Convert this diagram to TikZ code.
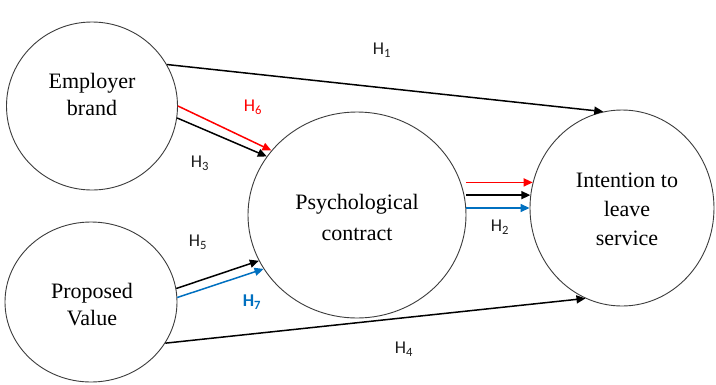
\documentclass[tikz,border=0pt]{standalone}
\usepackage{fontspec}
\setmainfont{Liberation Serif}
\newfontfamily\labfont{Carlito}
\usetikzlibrary{shapes.geometric,arrows.meta}
\definecolor{cgray}{RGB}{60,60,60}
\definecolor{hred}{RGB}{255,0,0}
\definecolor{hblue}{RGB}{0,112,192}
\definecolor{htext}{RGB}{30,30,30}
\tikzset{
  construct/.style={ellipse, draw=cgray, line width=0.9pt, inner sep=0pt},
  ctext/.style={align=center, inner sep=0pt, font=\fontsize{22}{27}\selectfont, text=black},
  hyp/.style={line width=1.5pt, -{Triangle[length=9pt,width=8pt]}},
  hlab/.style={font=\labfont\fontsize{18}{20}\selectfont, text=htext, inner sep=0pt},
}
\begin{document}
\begin{tikzpicture}[x=1pt,y=-1pt]
\useasboundingbox (0,0) rectangle (716,384);
\fill[white] (0,0) rectangle (716,384);
\node[construct, minimum width=171pt, minimum height=168pt] (eb) at (92,106) {};
\node[construct, minimum width=172pt, minimum height=160pt] (pv) at (91,302) {};
\node[construct, minimum width=218pt, minimum height=206pt] (pc) at (357,215) {};
\node[construct, minimum width=184pt, minimum height=196pt] (ic) at (622,208) {};
\node[ctext] (ebt) at (92,94) {Employer\\brand};
\node[ctext] (pvt) at (92,305) {Proposed\\Value};
\node[ctext] (pct) at (357,217) {Psychological\\[4pt]contract};
\node[ctext, font=\fontsize{22}{29}\selectfont] (ict) at (627,209) {Intention to\\leave\\service};
% arrows
\draw[hyp, black] (eb.29) -- (ic.101);
\draw[hyp, hred] (eb.0) -- (pc.143);
\draw[hyp, black] (eb.-8) -- (pc.147);
\draw[hyp, black] (pv.9) -- (pc.205);
\draw[hyp, hblue] (pv.3) -- (pc.210);
\draw[hyp, hred] (ic.164 -| pc.east) -- (ic.164);
\draw[hyp, black] (ic.172 -| pc.east) -- (ic.172);
\draw[hyp, hblue] (ic.180.6 -| pc.east) -- (ic.180.6);
\draw[hyp, black] (pv.-29) -- (ic.248.7);
% labels
\node[hlab] (h1) at (382,50) {H\textsubscript{1}};
\node[hlab, text=hred] (h6) at (253,107) {H\textsubscript{6}};
\node[hlab] (h3) at (200,163) {H\textsubscript{3}};
\node[hlab] (h5) at (198,242) {H\textsubscript{5}};
\node[hlab, text=hblue, font=\labfont\bfseries\fontsize{18}{20}\selectfont] (h7) at (252,302) {H\textsubscript{7}};
\node[hlab] (h2) at (500,227) {H\textsubscript{2}};
\node[hlab] (h4) at (404,349) {H\textsubscript{4}};
\end{tikzpicture}
\end{document}
